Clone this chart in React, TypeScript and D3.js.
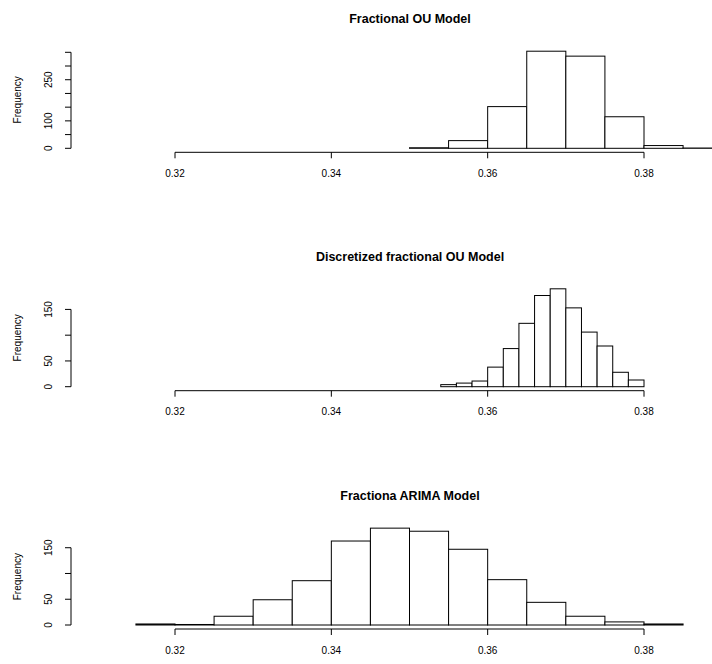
import React from "react";
import * as d3 from "d3";

// ---- data ----
const panelTitles = ["Fractional OU Model", "Discretized fractional OU Model", "Fractiona ARIMA Model"];

const ouBreaks = [0.350, 0.355, 0.360, 0.365, 0.370, 0.375, 0.380, 0.385, 0.390];
const ouCounts = [2, 28, 152, 354, 336, 115, 10, 1];

const dfouBreaks = [0.354, 0.356, 0.358, 0.360, 0.362, 0.364, 0.366, 0.368, 0.370, 0.372, 0.374, 0.376, 0.378, 0.380];
const dfouCounts = [4, 7, 11, 38, 74, 123, 177, 190, 153, 106, 79, 28, 13];

const arimaBreaks = [0.315, 0.320, 0.325, 0.330, 0.335, 0.340, 0.345, 0.350, 0.355, 0.360, 0.365, 0.370, 0.375, 0.380, 0.385];
const arimaCounts = [2, 1, 17, 49, 86, 163, 188, 182, 147, 88, 44, 17, 6, 2];

const xTicks = [0.32, 0.34, 0.36, 0.38];
const xTickLabels = ["0.32", "0.34", "0.36", "0.38"];

const ouYTicks = [0, 50, 100, 150, 200, 250, 300, 350];
const ouYLabels = [0, 100, 250];
const smallYTicks = [0, 50, 100, 150];
const smallYLabels = [0, 50, 150];

const FONT = "'Liberation Sans', Arial, Helvetica, sans-serif";

type Panel = {
  title: string;
  breaks: number[];
  counts: number[];
  yTicks: number[];
  yLabels: number[];
  yDomainMax: number;
  top: number; // panel offset
};

const xScale = d3.scaleLinear().domain([0.32, 0.38]).range([175, 644]);

function Hist({ p }: { p: Panel }) {
  const yTop = p.yTicks[p.yTicks.length - 1];
  const base = p.top + 133.5;
  const yScale = d3.scaleLinear().domain([0, yTop]).range([base, base - 96 * (yTop === 350 ? 1 : 0.805)]);
  const axisY = base + 4;
  const axisX = 71;
  const bins = p.counts.map((c, i) => ({ x0: p.breaks[i], x1: p.breaks[i + 1], c }));
  const regionMid = (base + 4 + (yScale(p.yDomainMax * 1.04))) / 2;
  return (
    <g>
      <text x={410} y={p.top + 4} textAnchor="middle" dominantBaseline="central"
        fontFamily={FONT} fontWeight="bold" fontSize={12.5}>{p.title}</text>
      {bins.map((b, i) => (
        <rect key={i} x={xScale(b.x0)} y={yScale(b.c)} width={xScale(b.x1) - xScale(b.x0)}
          height={yScale(0) - yScale(b.c)} fill="white" stroke="black" strokeWidth={1} />
      ))}
      {/* x axis */}
      <line x1={xScale(xTicks[0])} x2={xScale(xTicks[xTicks.length - 1])} y1={axisY} y2={axisY} stroke="black" />
      {xTicks.map((t, i) => (
        <g key={i}>
          <line x1={xScale(t)} x2={xScale(t)} y1={axisY} y2={axisY + 6} stroke="black" />
          <text x={xScale(t)} y={axisY + 21} textAnchor="middle" dominantBaseline="central"
            fontFamily={FONT} fontSize={10}>{xTickLabels[i]}</text>
        </g>
      ))}
      {/* y axis */}
      <line x1={axisX} x2={axisX} y1={yScale(0)} y2={yScale(yTop)} stroke="black" />
      {p.yTicks.map((t, i) => (
        <line key={i} x1={axisX - 6} x2={axisX} y1={yScale(t)} y2={yScale(t)} stroke="black" />
      ))}
      {p.yLabels.map((t, i) => (
        <text key={i} transform={`translate(48,${yScale(t)}) rotate(-90)`} textAnchor="middle"
          dominantBaseline="central" fontFamily={FONT} fontSize={10}>{String(t)}</text>
      ))}
      <text transform={`translate(17,${regionMid}) rotate(-90)`} textAnchor="middle"
        dominantBaseline="central" fontFamily={FONT} fontSize={10}>Frequency</text>
    </g>
  );
}

export default function App() {
  const panels: Panel[] = [
    { title: panelTitles[0], breaks: ouBreaks, counts: ouCounts, yTicks: ouYTicks, yLabels: ouYLabels, yDomainMax: d3.max(ouCounts)!, top: 14.8 },
    { title: panelTitles[1], breaks: dfouBreaks, counts: dfouCounts, yTicks: smallYTicks, yLabels: smallYLabels, yDomainMax: d3.max(dfouCounts)!, top: 253.2 },
    { title: panelTitles[2], breaks: arimaBreaks, counts: arimaCounts, yTicks: smallYTicks, yLabels: smallYLabels, yDomainMax: d3.max(arimaCounts)!, top: 491.5 },
  ];
  return (
    <svg width={712} height={664} style={{ position: "absolute", left: 0, top: 0, background: "white" }}>
      <rect x={0} y={0} width={712} height={664} fill="white" />
      {panels.map((p, i) => <Hist key={i} p={p} />)}
    </svg>
  );
}
